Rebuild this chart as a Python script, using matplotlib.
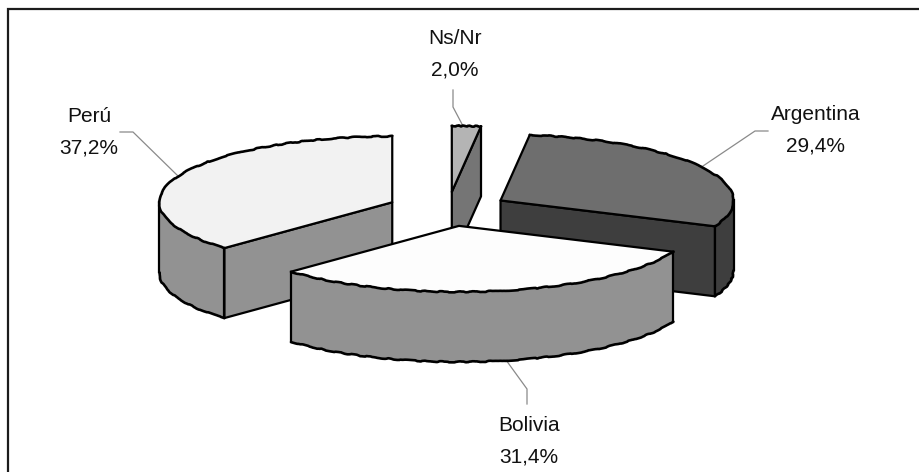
import numpy as np
import matplotlib
matplotlib.use('Agg')
import matplotlib.pyplot as plt

plt.rcParams['font.family'] = ['Liberation Sans', 'DejaVu Sans']

# ---- data (clockwise from 12 o'clock) ----
paises = ['Ns/Nr', 'Argentina', 'Bolivia', 'Perú']
valores = [2.0, 29.4, 31.4, 37.2]
tapa = ['#b4b4b4', '#6e6e6e', '#fdfdfd', '#f2f2f2']
lado = ['#757575', '#3e3e3e', '#929292', '#929292']

# label centre and leader line for each slice, in pixels
etiquetas = [(455, 54), (816, 130), (529, 441), (89, 132)]
guias = [
    [(453, 90), (453, 107), (463, 126)],
    [(768, 131), (755, 131), (703, 166)],
    [(506, 360), (527, 389), (527, 404)],
    [(120, 132), (133, 132), (178, 176)],
]

# pie geometry in pixels
cx, cy = 448, 209
rx, ry = 233, 66
alto = 70
explode = 0.26


def punto(c, ang):
    return c[0] + rx * np.sin(ang), c[1] - ry * np.cos(ang)


def arco(c, a, b, dy=0):
    t = np.linspace(a, b, 80)
    x, y = punto(c, t)
    return x, y + dy


fig = plt.figure(figsize=(9.2, 4.72), dpi=100)
ax = fig.add_axes([0, 0, 1, 1])
ax.set_xlim(0, 920)
ax.set_ylim(472, 0)
ax.axis('off')

# frame: only top and left are visible in the scan
ax.plot([8.5, 8.5, 920], [472, 9, 9], color='#1c1c1c', lw=1.6, solid_joinstyle='miter')

acum = np.cumsum([0] + valores) / sum(valores) * 2 * np.pi
centros = []
for i in range(len(valores)):
    med = (acum[i] + acum[i + 1]) / 2
    centros.append((cx + explode * rx * np.sin(med), cy - explode * ry * np.cos(med)))

# paint from back to front
orden = sorted(range(len(valores)), key=lambda k: centros[k][1])


def cara(c, ang, color):
    px, py = punto(c, ang)
    xs = [c[0], px, px, c[0]]
    ys = [c[1], py, py + alto, c[1] + alto]
    ax.fill(xs, ys, facecolor=color, edgecolor='black', lw=1.6, joinstyle='round')


def borde(x, y, lw=1.9):
    linea, = ax.plot(x, y, color='black', lw=lw, solid_capstyle='round')
    linea.set_sketch_params(scale=0.5, length=40, randomness=10)


for i in orden:
    c = centros[i]
    a, b = acum[i], acum[i + 1]

    # flat cut faces, only if they look towards the viewer
    if np.sin(a) < -1e-6:
        cara(c, a, lado[i])
    if np.sin(b) > 1e-6:
        cara(c, b, lado[i])

    # outer wall, front half of the ellipse only
    ini, fin = max(a, np.pi / 2), min(b, 3 * np.pi / 2)
    if fin > ini:
        x, y = arco(c, ini, fin)
        x2, y2 = arco(c, ini, fin, alto)
        ax.fill(np.r_[x, x2[::-1]], np.r_[y, y2[::-1]], facecolor=lado[i], edgecolor='none')
        borde(x2, y2)
        ax.plot([x[0], x2[0]], [y[0], y2[0]], color='black', lw=1.6)
        ax.plot([x[-1], x2[-1]], [y[-1], y2[-1]], color='black', lw=1.6)

    # top face
    x, y = arco(c, a, b)
    ax.fill(np.r_[c[0], x], np.r_[c[1], y], facecolor=tapa[i], edgecolor='none')
    borde(x, y)
    ax.plot([x[0], c[0], x[-1]], [y[0], c[1], y[-1]], color='black', lw=1.6, solid_joinstyle='round')

# labels
for i, nombre in enumerate(paises):
    g = np.array(guias[i])
    ax.plot(g[:, 0], g[:, 1], color='#8a8a8a', lw=0.9, zorder=1)
    texto = nombre + '\n' + f'{valores[i]:.1f}%'.replace('.', ',')
    ax.text(etiquetas[i][0], etiquetas[i][1], texto, ha='center', va='center',
            fontsize=15, color='#111111', linespacing=1.85)

fig.savefig('out.png', dpi=100)
